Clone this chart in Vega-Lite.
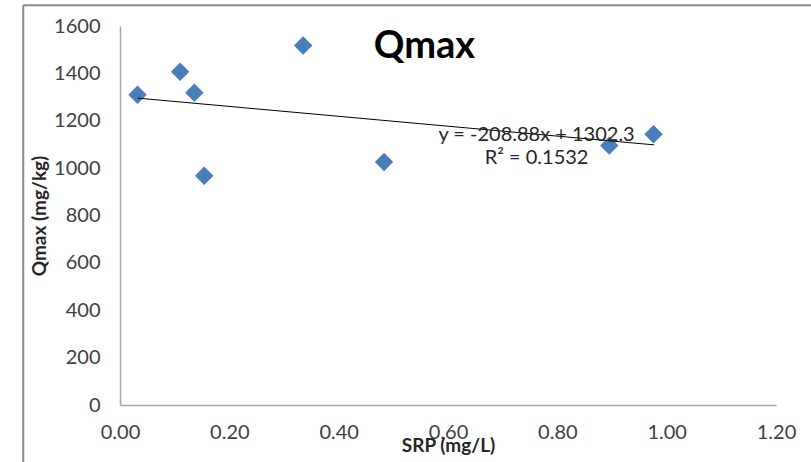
{
  "$schema": "https://vega.github.io/schema/vega-lite/v6.json",
  "width": 656,
  "height": 379,
  "autosize": "none",
  "padding": {"left": 120, "top": 26, "right": 35, "bottom": 57},
  "background": "white",
  "config": {"view": {"stroke": null}, "font": "Lato"},
  "datasets": {
    "points": [
      {"SRP": 0.032, "Qmax": 1310},
      {"SRP": 0.110, "Qmax": 1407},
      {"SRP": 0.136, "Qmax": 1318},
      {"SRP": 0.154, "Qmax": 968},
      {"SRP": 0.335, "Qmax": 1518},
      {"SRP": 0.483, "Qmax": 1026},
      {"SRP": 0.895, "Qmax": 1095},
      {"SRP": 0.976, "Qmax": 1143}
    ],
    "trend": [
      {"SRP": 0.032, "Qmax": 1295.6},
      {"SRP": 0.977, "Qmax": 1098.2}
    ],
    "title": [{"SRP": 0.557, "Qmax": 1512, "label": "Qmax"}],
    "equation": [
      {"SRP": 0.762, "Qmax": 1140, "label": "y = -208.88x + 1302.3"},
      {"SRP": 0.762, "Qmax": 1043, "label": "R² = 0.1532"}
    ],
    "frameTop": [{"x1": -0.177, "x2": 1.3, "y": 1688}],
    "frameLeft": [{"x": -0.177, "y1": 1688, "y2": -300}]
  },
  "layer": [
    {
      "data": {"name": "points"},
      "mark": {"type": "point", "shape": "diamond", "filled": true, "size": 340, "color": "#4a7ebb", "opacity": 1},
      "encoding": {
        "x": {
          "field": "SRP", "type": "quantitative",
          "scale": {"domain": [0, 1.2], "nice": false, "zero": false, "padding": 0},
          "axis": {
            "values": [0, 0.2, 0.4, 0.6, 0.8, 1.0, 1.2],
            "format": ".2f",
            "grid": false, "ticks": false, "labelFlush": false, "labelOverlap": false,
            "domainColor": "#a6a6a6", "domainWidth": 1.5,
            "labelFont": "Lato", "labelFontSize": 20, "labelColor": "#404040",
            "labelPadding": 17,
            "title": "SRP (mg/L)", "titleFont": "Lato", "titleFontSize": 19,
            "titleFontWeight": "bold", "titleColor": "#262626", "titlePadding": -6
          }
        },
        "y": {
          "field": "Qmax", "type": "quantitative",
          "scale": {"domain": [0, 1600], "nice": false, "zero": false, "padding": 0},
          "axis": {
            "values": [0, 200, 400, 600, 800, 1000, 1200, 1400, 1600],
            "format": "d",
            "grid": false, "ticks": false, "labelFlush": false, "labelOverlap": false,
            "domainColor": "#a6a6a6", "domainWidth": 1.5,
            "labelFont": "Lato", "labelFontSize": 20, "labelColor": "#404040",
            "labelPadding": 20,
            "title": "Qmax (mg/kg)", "titleFont": "Lato", "titleFontSize": 19,
            "titleFontWeight": "bold", "titleColor": "#262626", "titlePadding": 4
          }
        }
      }
    },
    {
      "data": {"name": "trend"},
      "mark": {"type": "line", "color": "#000000", "strokeWidth": 1},
      "encoding": {
        "x": {"field": "SRP", "type": "quantitative"},
        "y": {"field": "Qmax", "type": "quantitative"}
      }
    },
    {
      "data": {"name": "title"},
      "mark": {"type": "text", "font": "Lato", "fontSize": 38, "fontWeight": "bold", "color": "#000000", "align": "center", "baseline": "middle"},
      "encoding": {
        "x": {"field": "SRP", "type": "quantitative"},
        "y": {"field": "Qmax", "type": "quantitative"},
        "text": {"field": "label"}
      }
    },
    {
      "data": {"name": "equation"},
      "mark": {"type": "text", "font": "Lato", "fontSize": 20, "color": "#262626", "align": "center", "baseline": "middle"},
      "encoding": {
        "x": {"field": "SRP", "type": "quantitative"},
        "y": {"field": "Qmax", "type": "quantitative"},
        "text": {"field": "label"}
      }
    },
    {
      "data": {"name": "frameTop"},
      "mark": {"type": "rule", "color": "#8c8c8c", "strokeWidth": 2},
      "encoding": {
        "x": {"field": "x1", "type": "quantitative"},
        "x2": {"field": "x2"},
        "y": {"field": "y", "type": "quantitative"}
      }
    },
    {
      "data": {"name": "frameLeft"},
      "mark": {"type": "rule", "color": "#8c8c8c", "strokeWidth": 2},
      "encoding": {
        "x": {"field": "x", "type": "quantitative"},
        "y": {"field": "y1", "type": "quantitative"},
        "y2": {"field": "y2"}
      }
    }
  ]
}
